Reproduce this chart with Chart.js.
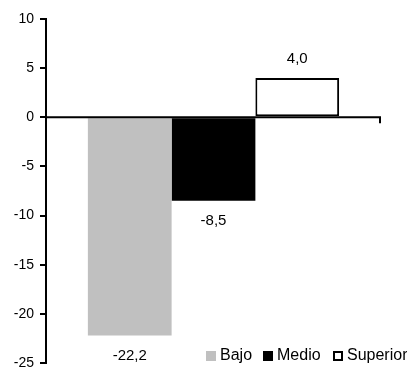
<!DOCTYPE html>
<html>
<head>
<meta charset="utf-8">
<script src="https://cdn.jsdelivr.net/npm/chart.js@4.4.0/dist/chart.umd.min.js"></script>
<style>
  html, body { margin: 0; padding: 0; background: #fff; overflow: hidden; }
  #wrap { width: 407px; height: 390px; }
</style>
</head>
<body>
<div id="wrap"><canvas id="chart"></canvas></div>
<script>
const categories = [''];
const seriesNames = ['Bajo', 'Medio', 'Superior'];
const seriesValues = [[-22.2], [-8.5], [4.0]];
const yTicks = [10, 5, 0, -5, -10, -15, -20, -25];

const fill = ['#c0c0c0', '#000000', '#ffffff'];
const border = ['#c0c0c0', '#000000', '#000000'];
const FAMILY = '"Liberation Sans", Arial, sans-serif';

// zero line with a small tick at the right end
const zeroLine = {
  id: 'zeroLine',
  afterDatasetsDraw(chart) {
    const ctx = chart.ctx, a = chart.chartArea;
    const y = chart.scales.y.getPixelForValue(0);
    ctx.save();
    ctx.strokeStyle = '#000';
    ctx.lineWidth = 2;
    ctx.beginPath();
    ctx.moveTo(a.left, y);
    ctx.lineTo(a.right, y);
    ctx.moveTo(a.right - 1, y);
    ctx.lineTo(a.right - 1, y + 6);
    ctx.stroke();
    ctx.restore();
  }
};

// value labels, comma as decimal separator
const valueLabels = {
  id: 'valueLabels',
  afterDatasetsDraw(chart) {
    const ctx = chart.ctx;
    ctx.save();
    ctx.font = '15px ' + FAMILY;
    ctx.fillStyle = '#000';
    ctx.textAlign = 'center';
    ctx.textBaseline = 'middle';
    chart.data.datasets.forEach((ds, i) => {
      chart.getDatasetMeta(i).data.forEach((bar, j) => {
        const v = ds.data[j];
        const y = v < 0 ? bar.y + 20 : bar.y - 19;
        ctx.fillText(v.toFixed(1).replace('.', ','), bar.x, y);
      });
    });
    ctx.restore();
  }
};

// legend drawn inside the plot, bottom right
const innerLegend = {
  id: 'innerLegend',
  afterDraw(chart) {
    const ctx = chart.ctx;
    const xs = [206, 263, 333];
    const y = 356;
    ctx.save();
    ctx.font = '16px ' + FAMILY;
    ctx.textBaseline = 'middle';
    ctx.textAlign = 'left';
    seriesNames.forEach((name, i) => {
      ctx.fillStyle = fill[i];
      ctx.fillRect(xs[i], y - 5, 10, 10);
      if (i === 2) {
        ctx.strokeStyle = '#000';
        ctx.lineWidth = 2;
        ctx.strokeRect(xs[i] + 1, y - 4, 8, 8);
      }
      ctx.fillStyle = '#000';
      ctx.fillText(name, xs[i] + 14, y);
    });
    ctx.restore();
  }
};

new Chart(document.getElementById('chart'), {
  type: 'bar',
  data: {
    labels: categories,
    datasets: seriesNames.map((name, i) => ({
      label: name,
      data: seriesValues[i],
      backgroundColor: fill[i],
      borderColor: border[i],
      borderWidth: i === 2 ? 2 : 0,
      borderSkipped: false,
      categoryPercentage: 0.75,
      barPercentage: 1.0
    }))
  },
  options: {
    responsive: true,
    maintainAspectRatio: false,
    animation: false,
    layout: { padding: { top: 19, right: 26, bottom: 27, left: 0 } },
    plugins: {
      legend: { display: false },
      tooltip: { enabled: false }
    },
    scales: {
      x: { display: false },
      y: {
        min: -25,
        max: 10,
        afterFit(scale) { scale.width = 46; },
        afterBuildTicks(scale) { scale.ticks = yTicks.map(v => ({ value: v })); },
        border: { display: true, color: '#000', width: 2 },
        grid: { drawOnChartArea: false, drawTicks: true, tickLength: 6, color: '#000', lineWidth: 2 },
        ticks: {
          color: '#000',
          padding: 6,
          font: { family: FAMILY, size: 14 }
        }
      }
    }
  },
  plugins: [zeroLine, valueLabels, innerLegend]
});
</script>
</body>
</html>
